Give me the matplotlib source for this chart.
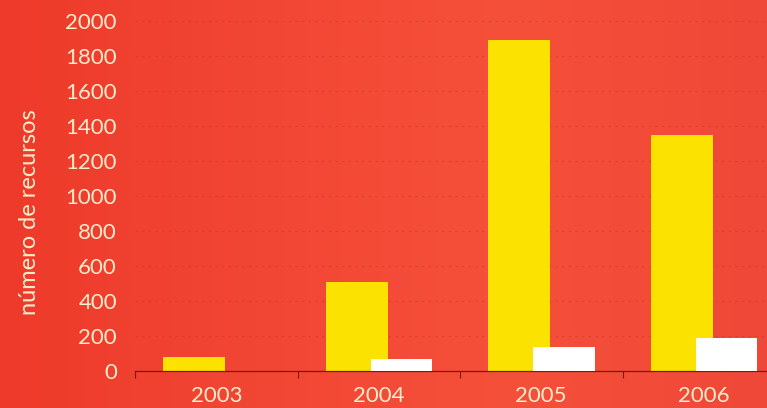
import matplotlib
matplotlib.use("Agg")
import matplotlib.pyplot as plt
import numpy as np
from matplotlib.colors import LinearSegmentedColormap

years = ["2003", "2004", "2005", "2006"]
yellow_vals = [80, 510, 1890, 1350]
white_vals = [0, 70, 140, 190]
yticks = [0, 200, 400, 600, 800, 1000, 1200, 1400, 1600, 1800, 2000]
ylabel = "número de recursos"

plt.rcParams['font.family'] = ['Lato', 'DejaVu Sans']
txt = '#fdeccb'

fig = plt.figure(figsize=(7.67, 4.08), dpi=100)
# background gradient
bg = fig.add_axes([0, 0, 1, 1], zorder=0)
grad = np.linspace(0, 1, 256)[None, :]
cm = LinearSegmentedColormap.from_list('bg', ['#ee3a2a', '#f24634', '#f5503a', '#f04838'])
bg.imshow(grad, aspect='auto', cmap=cm, extent=[0, 1, 0, 1])
bg.axis('off')

ax = fig.add_axes([135/767, 37/408, 650/767, 350/408], zorder=1)
ax.patch.set_alpha(0)
x = np.arange(len(years))
w = 0.38
ax.bar(x - 0.135, yellow_vals, width=w, color='#fbe200', zorder=2)
ax.bar(x + 0.14, white_vals, width=w, color='#ffffff', zorder=3)

ax.set_xlim(-0.5, 3.5)
ax.set_ylim(0, 2000)
ax.set_yticks(yticks)
ax.set_yticklabels([str(v) for v in yticks], fontsize=16, color=txt)
ax.set_xticks([-0.5, 0.5, 1.5, 2.5])
ax.set_xticklabels([])
ax.set_xticks(x, minor=True)
ax.set_xticklabels(years, minor=True, fontsize=16, color=txt)
ax.tick_params(axis='x', which='major', length=5, color='#7a1a10', width=0.8, direction='out')
ax.tick_params(axis='x', which='minor', length=0, pad=11)
ax.tick_params(axis='y', length=0, pad=13)
for s in ['top', 'right', 'left']:
    ax.spines[s].set_visible(False)
ax.spines['bottom'].set_color('#7a1a10')
ax.spines['bottom'].set_linewidth(0.9)
ax.yaxis.grid(True, linestyle=(0, (2, 4)), color='#b83020', alpha=0.35, linewidth=0.8)
ax.set_axisbelow(True)

fig.text(30/767, 196/408, ylabel, rotation=90, va='center', ha='center', fontsize=17, color=txt)

fig.savefig('out.png', dpi=100)
